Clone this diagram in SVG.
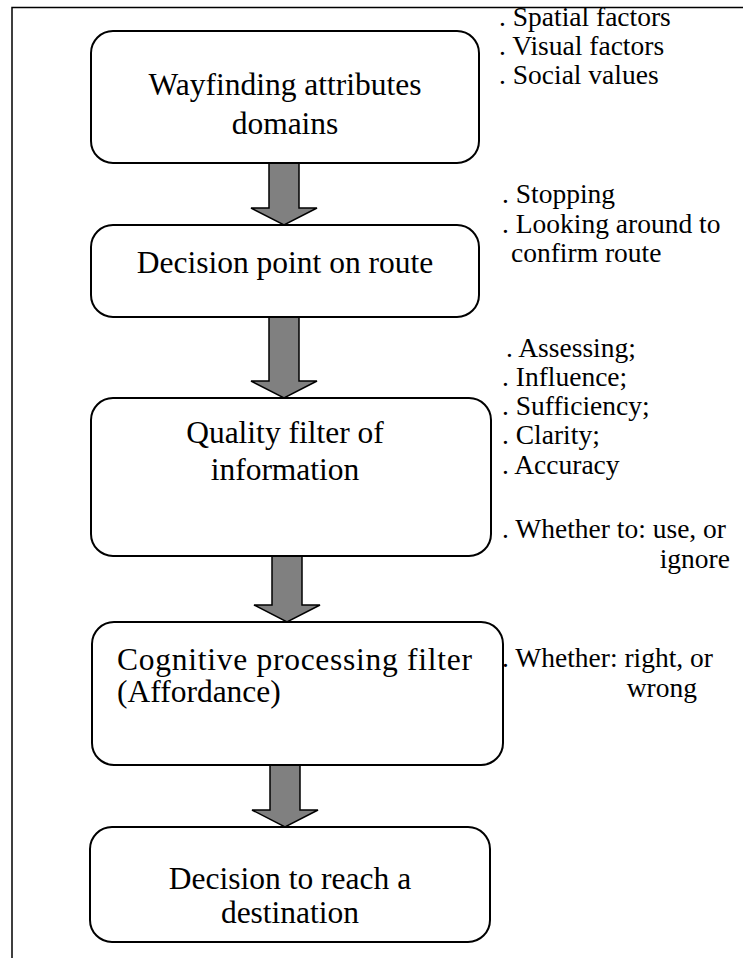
<svg xmlns="http://www.w3.org/2000/svg" width="743" height="958" viewBox="0 0 743 958">
  <style>
    .frame { fill: none; stroke: #000; stroke-width: 1.5; }
    .box { fill: #fff; stroke: #000; stroke-width: 2; }
    .arrow { fill: #808080; stroke: #000; stroke-width: 1.5; stroke-linejoin: miter; }
    .main { font-family: "Liberation Serif", "Times New Roman", serif; font-size: 31.5px; fill: #000; }
    .note { font-family: "Liberation Serif", "Times New Roman", serif; font-size: 27.5px; fill: #000; }
    .mid { text-anchor: middle; }
  </style>

  <!-- outer frame (open at right and bottom edges) -->
  <path class="frame" d="M12,958 V7.5 H743"/>

  <!-- block arrows between stages -->
  <g id="connectors">
    <path class="arrow" d="M269,163 H299 V208 H317 L284,225 L251,208 H269 Z"/>
    <path class="arrow" d="M269,317 H299 V381 H317 L284,398 L251,381 H269 Z"/>
    <path class="arrow" d="M272,556 H302 V605 H320 L287,622 L254,605 H272 Z"/>
    <path class="arrow" d="M270,765 H300 V810 H318 L285,827 L252,810 H270 Z"/>
  </g>

  <g id="node-wayfinding">
    <rect class="box" x="91" y="31" width="388" height="132" rx="22"/>
    <text class="main mid" x="285" y="95">Wayfinding attributes</text>
    <text class="main mid" x="285" y="134">domains</text>
  </g>

  <g id="node-decision-point">
    <rect class="box" x="91" y="225" width="388" height="92" rx="22"/>
    <text class="main mid" x="285" y="273">Decision point on route</text>
  </g>

  <g id="node-quality-filter">
    <rect class="box" x="91" y="398" width="400" height="158" rx="22"/>
    <text class="main mid" x="285" y="443">Quality filter of</text>
    <text class="main mid" x="285" y="480">information</text>
  </g>

  <g id="node-cognitive-filter">
    <rect class="box" x="92" y="622" width="411" height="143" rx="22"/>
    <text class="main" x="117" y="670" textLength="355" lengthAdjust="spacing">Cognitive processing filter</text>
    <text class="main" x="117" y="702">(Affordance)</text>
  </g>

  <g id="node-destination">
    <rect class="box" x="90" y="827" width="400" height="115" rx="22"/>
    <text class="main mid" x="290" y="889">Decision to reach a</text>
    <text class="main mid" x="290" y="923">destination</text>
  </g>

  <!-- side notes -->
  <g id="notes-wayfinding">
    <text class="note" x="499" y="26">. Spatial factors</text>
    <text class="note" x="499" y="55">. Visual factors</text>
    <text class="note" x="499" y="84">. Social values</text>
  </g>
  <g id="notes-decision-point">
    <text class="note" x="502" y="203">. Stopping</text>
    <text class="note" x="502" y="233">. Looking around to</text>
    <text class="note" x="511" y="262">confirm route</text>
  </g>
  <g id="notes-quality-filter">
    <text class="note" x="506" y="357">. Assessing;</text>
    <text class="note" x="502" y="386">. Influence;</text>
    <text class="note" x="502" y="415">. Sufficiency;</text>
    <text class="note" x="502" y="444">. Clarity;</text>
    <text class="note" x="502" y="474">. Accuracy</text>
    <text class="note" x="502" y="538">. Whether to: use, or</text>
    <text class="note" x="730" y="568" text-anchor="end">ignore</text>
  </g>
  <g id="notes-cognitive-filter">
    <text class="note" x="502" y="667">. Whether: right, or</text>
    <text class="note" x="697" y="697" text-anchor="end">wrong</text>
  </g>
</svg>
